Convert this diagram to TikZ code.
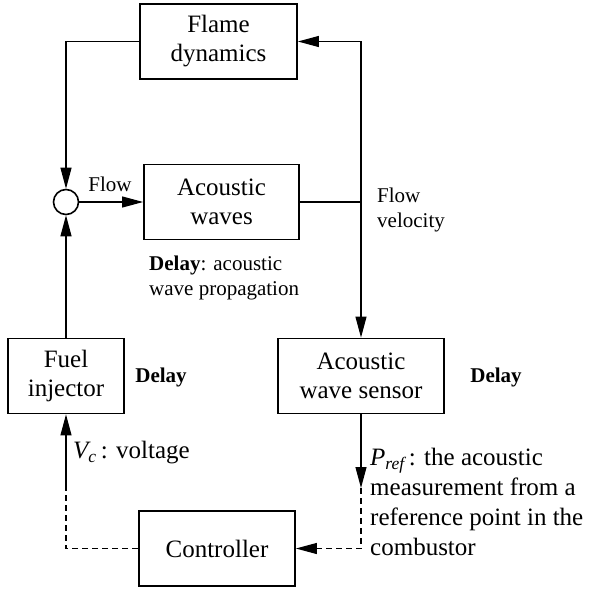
\documentclass[tikz,border=0pt]{standalone}
\usepackage{fontspec}
\setmainfont{Liberation Serif}
\usetikzlibrary{arrows.meta}
\tikzset{
  blk/.style={draw, line width=1.8pt, minimum height=75pt, align=center, inner sep=0pt, font=\fontsize{25}{29}\selectfont},
  conn/.style={line width=1.1pt},
  tip/.style={-{Triangle[length=21pt,width=11pt]}},
  arr/.style={conn, tip},
  dsh/.style={conn, dash pattern=on 6pt off 4pt},
  sml/.style={font=\fontsize{21}{25}\selectfont, inner sep=0pt},
  big/.style={font=\fontsize{25}{30}\selectfont, inner sep=0pt},
}
\begin{document}
\begin{tikzpicture}[x=1pt,y=-1pt]
\useasboundingbox (0,0) rectangle (597,589);
\node[blk, minimum width=157pt] (flame) at (218.5,41.5) {Flame\\dynamics};
\node[blk, minimum width=155pt] (aw) at (221.5,202) {Acoustic\\waves};
\node[blk, minimum width=116pt] (fuel) at (66,376) {Fuel\\injector};
\node[blk, minimum width=166pt] (sensor) at (361,376) {Acoustic\\wave sensor};
\node[blk, minimum width=156pt] (ctrl) at (217,548.5) {Controller};
\node[draw, circle, line width=1.6pt, minimum size=25pt, inner sep=0pt] (sum) at (66,202) {};

\coordinate (j) at (361,202);
\coordinate (tl) at (66,41.5);
\coordinate (tr) at (361,41.5);
\coordinate (lm) at (66,488);
\coordinate (lb) at (66,548.5);
\coordinate (rm) at (361,488);
\coordinate (rb) at (361,548.5);

\draw[arr] (flame.west) -- (tl) -- (sum.north);
\draw[arr] (sum.east) -- (aw.west);
\draw[conn] (aw.east) -- (j);
\draw[arr] (j) -- (tr) -- (flame.east);
\draw[arr] (j) -- (sensor.north);
\draw[arr] (fuel.north) -- (sum.south);
\draw[dsh] (ctrl.west) -- (lb) -- (lm);
\draw[arr] (lm) -- (fuel.south);
\draw[arr] (sensor.south) -- (rm);
\draw[dsh, tip] (rm) -- (rb) -- (ctrl.east);

\node[sml] (flow) at (110,184) {Flow};
\node[sml, anchor=west, align=left] (fv) at (377,210) {Flow\\velocity};
\node[sml, anchor=west, align=left] (dl) at (149,277.5) {\textbf{Delay}: acoustic\\wave propagation};
\node[sml] (d1) at (161,377) {\textbf{Delay}};
\node[sml] (d2) at (496,377) {\textbf{Delay}};
\node[big, anchor=west] (vc) at (73,453) {\textit{V\textsubscript{c}}\,: voltage};
\node[big, anchor=west, align=left] (pref) at (370,502) {\textit{P\textsubscript{ref}}\,: the acoustic\\measurement from a\\reference point in the\\combustor};
\end{tikzpicture}
\end{document}
